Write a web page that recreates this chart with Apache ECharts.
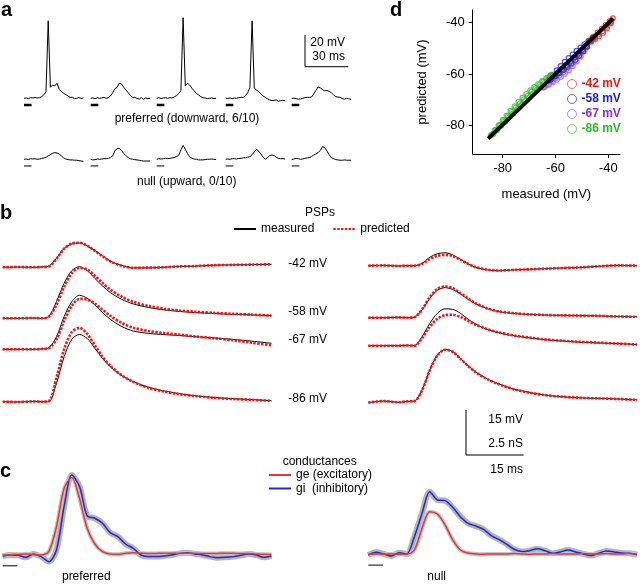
<!DOCTYPE html>
<html>
<head>
<meta charset="utf-8">
<script src="https://cdn.jsdelivr.net/npm/echarts@6/dist/echarts.min.js"></script>
<style>
  html, body { margin: 0; padding: 0; background: #fff; }
  #main { width: 640px; height: 585px; }
</style>
</head>
<body>
<div id="main"></div>
<script>
// ---- panel a: single trials (ms, mV above rest) ----
var aTime = [0,1.5,3,4.5,6,7.5,9,10.5,12,13.5,15,16.5,18,19.5,21,22.5,24,25.5,27,28.5,30,31.5,33,34.5,36,37.5,39,40.5];
var preferredTrials = [
  [0,0.2,-0.2,0.4,0.2,0.6,0.2,0.4,1.1,2.2,4.3,50,7.1,8.6,8,9.7,5.8,4.3,3.2,2.4,1.5,0.6,0.6,-0.2,0,0.6,-0.2,0.2],
  [0,0.2,-0.2,0.4,0,0.2,0.6,0,0.4,1.5,3.7,6.2,7.1,9.7,9.2,7.1,5.4,3.7,1.9,0.6,0.6,0,-0.6,0.4,-0.6,0.2,-0.2,0],
  [0,0.4,-0.2,0.2,0.4,0,0.4,0.2,0.9,1.7,3.2,4.9,52,8,9.7,8.6,6.5,4.9,3.2,2.2,1.1,0.4,0.2,-0.2,0,0.2,-0.2,0],
  [0,0,0.2,-0.2,0.2,0,0.4,0.6,0.6,1.7,3.7,7,50,6.5,5.4,4.3,2.8,1.5,0.6,-0.4,-1.1,-1.5,-1.3,-1.1,-1.9,-1.5,-1.3,-1.5],
  [0,0,-0.2,-0.6,-0.4,0,0.4,0.6,0.6,0.8,2.8,5,7.3,6.7,5.6,4.9,5,4.5,3.6,2.2,1.1,0.8,0.6,-0.2,-0.6,0,-0.4,-0.6]
];
var nullTrials = [
  [0,0.2,-0.2,0.4,0.2,0.4,0,0.2,0.6,0.9,1.3,2.2,3,3.9,4.3,4.1,3.4,2.2,0.9,0.2,-0.2,-0.4,-0.4,-0.6,-0.6,-0.9,-1.1,-1.3],
  [0,-0.4,-0.2,0.2,0,0.2,0.4,0.4,0.6,1.3,2.2,5.4,6.9,6.9,5.8,3.7,2.4,1.1,0.4,0,-0.2,-0.4,-0.6,-0.9,-1.1,-1.1,-1.1,-1.1],
  [0,0.4,0.2,0.4,0.6,0.4,0.6,0.9,1.1,1.7,2.6,6,9,6.5,3.7,1.7,0.6,0.2,0,-0.4,-0.4,-0.4,-0.2,0,0,0.2,0,-0.2],
  [0,0.2,0,0.4,0.4,0.2,0.6,0.6,0.9,1.1,1.3,1.7,3,4.7,6.5,5.2,3.4,1.3,0,1.1,2.4,2.8,2.4,1.3,0.6,0.4,0.4,0.2],
  [-0.2,0.2,0.6,0.4,0,0.2,0.6,0.9,1.1,1.7,2.8,3.4,4.3,5.8,8.2,7.5,5.4,3,1.1,0.4,-0.2,-0.4,-0.6,-0.6,-0.4,-0.6,-0.6,-0.6]
];
var stimA = [0, 5.2];

// ---- panel b: PSPs (ms, mV above baseline) ----
var bTime = [0,4,8,10,12,14,16,18,20,22,24,26,28,31,34,38,42,46,50,55,60,65,70];
var holdLabels = ['-42 mV', '-58 mV', '-67 mV', '-86 mV'];
var prefMeasured = [
  [0,0.1,0,0.1,0.4,3,6.3,7.8,8.1,7.1,5.6,3.8,2.1,0.6,-0.2,-0.2,0,0.3,0.4,0.7,0.8,0.9,1],
  [0,0,0.1,0,0.6,5.6,11.7,15.9,17.2,15.9,13.3,10.8,8.6,6.3,4.8,3.6,2.8,2.3,1.9,1.6,1.3,1.1,0.9],
  [0,0,0,0.1,0.5,4.2,10.9,15.9,18,17,14.8,12.2,10,7.6,6.1,5.3,4.9,4.6,4.2,3.8,3.3,2.7,2],
  [0,-0.1,0.1,0,0,6.1,15,20.8,22.4,21.1,17.8,14.4,11.7,8.7,6.7,4.8,3.6,2.7,2,1.4,1,0.7,0.3]
];
var prefPredicted = [
  [0,0.1,0,0.1,0.3,2.8,6.2,7.9,8.2,7.2,5.5,3.7,2,0.5,-0.2,-0.1,0,0.3,0.4,0.7,0.8,0.9,1],
  [0,0,0.1,0,0.5,4.5,10.5,15,16.8,16.3,14.2,11.8,9.6,7.2,5.5,4.1,3.2,2.6,2.2,1.8,1.5,1.2,0.9],
  [0,0,0,0.1,0.4,3.3,9.5,14.5,16.8,16.6,15.2,13.2,11.2,8.8,7.2,6.1,5.4,4.9,4.3,3.7,3,2.2,1.3],
  [0,-0.1,0.1,0,0.2,8,17.5,23.2,24.6,22.6,18.8,15,12,8.8,6.6,4.6,3.4,2.5,1.9,1.3,0.9,0.6,0.3]
];
var nullMeasured = [
  [0,0.1,-0.1,0,0,0.8,2.8,4,4.3,3.6,2.1,0.6,-0.6,-1.4,-1.7,-1.4,-1.2,-1,-0.8,-0.6,-0.2,0.1,0],
  [0,0,0.1,0,0.2,2.6,6.4,9.2,10,9.4,7.9,6.1,4.6,3,2,1.4,1.1,0.9,0.8,0.7,0.6,0.4,0.3],
  [0,0,0,0.1,0,3,7.4,10.8,12.3,12.1,10.8,8.8,7.2,5.4,4.3,3.3,2.6,2,1.6,1.2,0.9,0.7,0.4],
  [-0.3,0.2,-0.2,0.1,0.2,3.9,10.6,15.6,17.4,16.7,14.4,12,9.9,7.6,5.9,4.2,3.1,2.2,1.7,1.3,1.1,0.9,0.6]
];
var nullPredicted = [
  [0,0.1,-0.1,0,0,0.6,2.2,3.3,3.6,3.2,2,0.6,-0.5,-1.3,-1.6,-1.4,-1.2,-1,-0.8,-0.6,-0.2,0.1,0],
  [0,0,0.1,0,0.2,2.8,6.8,9.6,10.4,9.8,8.2,6.4,4.8,3.1,2.1,1.5,1.1,0.9,0.8,0.7,0.6,0.4,0.3],
  [0,0,0,0.1,0,2.5,6.3,9,10.2,10.3,9.6,8.3,7,5.5,4.4,3.4,2.7,2.1,1.7,1.3,1,0.7,0.4],
  [-0.3,0.2,-0.2,0.1,0.2,3.8,10.4,15.4,17.3,16.6,14.3,11.9,9.8,7.5,5.8,4.1,3,2.2,1.7,1.3,1.1,0.9,0.6]
];

// ---- panel c: conductances (ms, nS) ----
var cTime = [0,2,4,6,8,10,12,14,16,18,20,22,24,26,28,30,32,34,36,38,40,42,44,46,48,50,52,54,56,58,60,62,64,66,68,70];
var gePref = [0,0.02,0.03,0.06,0.02,0,0.19,1.57,3.7,4.31,3.15,1.48,0.61,0.19,0.06,0.04,0.1,0.12,0.1,0.08,0.09,0.1,0.1,0.09,0.1,0.1,0.08,0.08,0.09,0.1,0.1,0.08,0.09,0.06,0.04,0.03];
var giPref = [-0.06,0,-0.02,-0.13,0.06,-0.09,-0.37,0.28,2.7,4.44,3.8,2.17,2.04,1.76,1.24,1.02,0.61,0.37,0,-0.09,-0.09,-0.06,0,0.09,0.13,0.06,0,-0.09,-0.15,-0.13,-0.09,-0.02,0.06,0,-0.13,-0.06];
var geNull = [0,0.02,0,0.02,0,0,0.24,1.44,2.37,2.24,1.63,0.8,0.24,0.07,0.02,0,0.02,0.02,0.02,0.04,0.02,0,0.02,0.02,0.04,0.02,0.02,0.02,0.04,0.02,0.02,0.04,0.02,0.02,0.04,0.02];
var giNull = [-0.04,0.11,0.02,-0.09,0.09,0.02,0.98,2.28,3.48,3.02,2.98,2.6,2.09,1.72,1.57,1.39,1.04,0.83,0.57,0.28,0.15,0.2,0.31,0.2,0.06,0.13,0.24,0.13,0.02,-0.07,0.06,0.19,0.13,0.07,0.06,-0.02];
var stimC = [0, 3.8];

// ---- panel d: predicted vs measured (mV) ----
var dTicks = [-80, -60, -40];
var dRed = [[-47,-46.9],[-45.5,-45.4],[-44,-43.9],[-42.5,-42.4],[-41,-40.9],[-39.5,-39.4],[-38.3,-38.3],
  [-46.8,-47.1],[-45.2,-45.9],[-43.8,-44.6],[-42.2,-43.2],[-40.8,-41.5],[-39.2,-39.8],
  [-46.5,-47.3],[-45,-46.4],[-43.5,-45.2],[-42,-43.9],[-40.5,-42.1],[-39,-40.2]];
var dBlue = [[-62.5,-62.2],[-61,-60.4],[-59.5,-58.6],[-58,-56.9],[-56.5,-55.3],[-55,-53.8],[-53.5,-52.4],[-52,-51],[-50.5,-49.7],[-49,-48.4],[-47.5,-47.2],[-46,-45.9],
  [-62,-62.2],[-60.5,-60.8],[-59,-59.4],[-57.5,-58],[-56,-56.6],[-54.5,-55.1],[-53,-53.6],[-51.5,-52.1],[-50,-50.6],[-48.5,-49],[-47,-47.3],[-45.7,-45.9],
  [-61.5,-61.9],[-60,-60.8],[-58.5,-59.6],[-57,-58.4],[-55.5,-57.2],[-54,-55.8],[-52.5,-54.4],[-51,-52.8],[-49.5,-51.1],[-48,-49.3],[-46.5,-47.1]];
var dPurple = [[-65,-65.2],[-63.5,-64],[-62,-62.7],[-60.5,-61.4],[-59,-60],[-57.5,-58.6],[-56,-57.1],[-54.5,-55.5],[-53,-54],[-51.5,-52.4],[-50,-50.8],[-48.5,-49.5],
  [-64.5,-65.2],[-63,-64.2],[-61.5,-62.9],[-60,-61.7],[-58.5,-60.5],[-57,-59.2],[-55.5,-57.8],[-54,-56.3],[-52.5,-54.7],[-51,-53],[-49.5,-51.2],[-48,-49.3],
  [-64,-65],[-62.5,-64.1],[-61,-63.2],[-59.5,-62.2],[-58,-61.1],[-56.5,-59.9],[-55,-58.5],[-53.5,-56.9],[-52,-55.1],[-50.5,-53.1],[-49,-50.8]];
var dGreen = [[-84.5,-84],[-83,-82],[-81.5,-80],[-80,-78],[-78.5,-76.2],[-77,-74.4],[-75.5,-72.6],[-74,-70.9],[-72.5,-69.3],[-71,-67.8],[-69.5,-66.4],[-68,-65.1],[-66.5,-63.9],[-65,-62.8],[-63.5,-61.7],[-62,-60.7],[-61.3,-60.2],
  [-84,-83.5],[-82.5,-81.7],[-81,-79.9],[-79.5,-78.2],[-78,-76.5],[-76.5,-74.8],[-75,-73.1],[-73.5,-71.5],[-72,-69.9],[-70.5,-68.4],[-69,-66.9],[-67.5,-65.5],[-66,-64.2],[-64.5,-62.9],[-63,-61.6],[-61.8,-60.5],
  [-83.5,-83.3],[-82,-81.7],[-80.5,-80.1],[-79,-78.5],[-77.5,-76.9],[-76,-75.3],[-74.5,-73.7],[-73,-72.1],[-71.5,-70.5],[-70,-69],[-68.5,-67.5],[-67,-66.1],[-65.5,-64.7],[-64,-63.3],[-62.5,-61.8]];
var dIdentity = [[-85.5,-85.2],[-38.1,-38.3]];

var FONT = '"Liberation Sans", Arial, sans-serif';
var grid = [], xAxis = [], yAxis = [], series = [];

function panel(left, top, width, height, xMin, xMax, yMin, yMax) {
  var i = grid.length;
  grid.push({ left: left, top: top, width: width, height: height });
  xAxis.push({ type: 'value', gridIndex: i, min: xMin, max: xMax, show: false });
  yAxis.push({ type: 'value', gridIndex: i, min: yMin, max: yMax, show: false });
  return i;
}

function trace(g, t, v, name, style, smooth, z) {
  series.push({
    type: 'line', name: name, xAxisIndex: g, yAxisIndex: g,
    data: t.map(function (x, k) { return [x, v[k]]; }),
    symbol: 'none', smooth: smooth, clip: false, silent: true,
    itemStyle: { color: style.color },
    lineStyle: style, z: z || 2
  });
}

// panel a
var aLeft = [24, 90.7, 156.7, 225.7, 291.7];
var aMs = 1.467, aMv = 1.55;
preferredTrials.forEach(function (v, k) {
  var g = panel(aLeft[k], 98.3 - 55 * aMv, 40.5 * aMs, 60 * aMv, 0, 40.5, -5, 55);
  trace(g, aTime, v, null, { color: '#000', width: 1 }, false);
  trace(g, stimA, [-4.4, -4.4], null, { color: '#000', width: 2.5 }, false);
});
nullTrials.forEach(function (v, k) {
  var g = panel(aLeft[k], 159.3 - 15 * aMv, 40.5 * aMs, 20 * aMv, 0, 40.5, -5, 15);
  trace(g, aTime, v, null, { color: '#000', width: 1 }, false);
  trace(g, stimA, [-4.3, -4.3], null, { color: '#000', width: 1 }, false);
});

// panel b
var bMs = 3.84, bMv = 3;
var prefBase = [267.3, 318.3, 349.3, 401.7];
var nullBase = [265.7, 317.7, 345.7, 401.7];
var dotted = { color: '#f01414', width: 2.6, type: [2.4, 1.4] };
for (var k = 0; k < 4; k++) {
  var gl = panel(2.7, prefBase[k] - 27 * bMv, 70 * bMs, 32 * bMv, 0, 70, -5, 27);
  trace(gl, bTime, prefMeasured[k], 'measured', { color: '#000', width: 1 }, 0.3, 2);
  trace(gl, bTime, prefPredicted[k], 'predicted', dotted, 0.3, 3);
  var gr = panel(368.3, nullBase[k] - 27 * bMv, 70 * bMs, 32 * bMv, 0, 70, -5, 27);
  trace(gr, bTime, nullMeasured[k], 'measured', { color: '#000', width: 1 }, 0.3, 2);
  trace(gr, bTime, nullPredicted[k], 'predicted', dotted, 0.3, 3);
}

// panel c
var nS = 18;
[[2.7, 555, gePref, giPref], [368.3, 554.3, geNull, giNull]].forEach(function (p) {
  var g = panel(p[0], p[1] - 5 * nS, 70 * bMs, 6 * nS, 0, 70, -1, 5);
  trace(g, cTime, p[3], null, { color: '#b4b4b4', width: 6 }, 0.3, 1);
  trace(g, cTime, p[2], null, { color: '#c4c4c4', width: 4 }, 0.3, 1);
  trace(g, cTime, p[3], 'gi  (inhibitory)', { color: '#2424d8', width: 1.5 }, 0.3, 3);
  trace(g, cTime, p[2], 'ge (excitatory)', { color: '#ea3535', width: 1.5 }, 0.3, 4);
  trace(g, stimC, [-0.6, -0.6], null, { color: '#000', width: 1 }, false);
});

// panel d
var dg = grid.length;
grid.push({ left: 472.7, top: 10, width: 147.3, height: 144 });
var dAxisCommon = {
  type: 'value', gridIndex: dg,
  nameLocation: 'middle',
  nameTextStyle: { fontSize: 13, color: '#000', fontFamily: FONT },
  axisLine: { onZero: false, lineStyle: { color: '#000', width: 1 } },
  axisTick: { length: 4, customValues: dTicks, lineStyle: { color: '#000' } },
  axisLabel: { customValues: dTicks, fontSize: 13, color: '#000', fontFamily: FONT, margin: 8 },
  splitLine: { show: false }
};
xAxis.push(Object.assign({}, dAxisCommon, {
  min: -91.36, max: -35.57, name: 'measured (mV)', nameGap: 34
}));
yAxis.push(Object.assign({}, dAxisCommon, {
  min: -91.19, max: -35.05, name: 'predicted (mV)', nameGap: 44
}));
[['-67 mV', dPurple, '#a45cf0'], ['-58 mV', dBlue, '#2525e0'], ['-86 mV', dGreen, '#2ec42e'], ['-42 mV', dRed, '#f02828']]
  .forEach(function (s) {
    series.push({
      type: 'scatter', name: s[0], xAxisIndex: dg, yAxisIndex: dg, data: s[1],
      symbol: 'circle', symbolSize: 5, silent: true,
      itemStyle: { color: 'rgba(0,0,0,0)', borderColor: s[2], borderWidth: 1.2 }
    });
  });
series.push({
  type: 'line', xAxisIndex: dg, yAxisIndex: dg, data: dIdentity, symbol: 'none',
  silent: true, lineStyle: { color: '#000', width: 4 }, z: 5
});

function txt(s, x, y, align, font, color) {
  return { type: 'text', silent: true, style: {
    text: s, x: x, y: y, textAlign: align || 'left', textVerticalAlign: 'middle',
    font: font || ('12px ' + FONT), fill: color || '#000' } };
}
function seg(x1, y1, x2, y2) {
  return { type: 'line', silent: true, shape: { x1: x1, y1: y1, x2: x2, y2: y2 },
    style: { stroke: '#000', lineWidth: 1 } };
}
var bold = 'bold 20px ' + FONT;
var graphics = [
  txt('a', 1, 10, 'left', bold), txt('b', 0, 213, 'left', bold),
  txt('c', 0, 471, 'left', bold), txt('d', 390, 10, 'left', bold),
  txt('preferred (downward, 6/10)', 187, 118.3, 'center'),
  txt('null (upward, 0/10)', 186.7, 181.7, 'center'),
  txt('20 mV', 345, 42.3, 'right'), txt('30 ms', 345, 56.7, 'right'),
  seg(305, 35, 305, 66.7), seg(305, 66.7, 348.3, 66.7),
  txt('PSPs', 320, 213, 'center'),
  txt('15 mV', 523, 420, 'right'), txt('2.5 nS', 523, 444, 'right'), txt('15 ms', 523, 470, 'right'),
  seg(466, 410, 466, 455), seg(466, 455, 523.6, 455),
  txt('conductances', 319.7, 461.7, 'center'),
  txt('preferred', 86.3, 576.7, 'center'), txt('null', 436.7, 576.7, 'center')
];
var labelY = [263.3, 311.7, 339.3, 398.3];
holdLabels.forEach(function (l, k) { graphics.push(txt(l, 288.3, labelY[k], 'left')); });

var chart = echarts.init(document.getElementById('main'), null, { renderer: 'canvas' });
chart.setOption({
  animation: false,
  backgroundColor: '#fff',
  textStyle: { fontFamily: FONT },
  grid: grid, xAxis: xAxis, yAxis: yAxis,
  legend: [
    { data: ['measured', 'predicted'], left: 233, top: 223, orient: 'horizontal', padding: 0,
      itemWidth: 22, itemHeight: 10, itemGap: 18, selectedMode: false,
      itemStyle: { opacity: 0 },
      textStyle: { fontSize: 12, color: '#000', fontFamily: FONT } },
    { data: ['ge (excitatory)', 'gi  (inhibitory)'], left: 268, top: 469, orient: 'vertical', padding: 0,
      itemWidth: 22, itemHeight: 8, itemGap: 1.5, selectedMode: false,
      itemStyle: { opacity: 0 },
      textStyle: { fontSize: 12, color: '#000', fontFamily: FONT } },
    { data: [
        { name: '-42 mV', textStyle: { color: '#e81818' } },
        { name: '-58 mV', textStyle: { color: '#1c1cc8' } },
        { name: '-67 mV', textStyle: { color: '#8a2ee0' } },
        { name: '-86 mV', textStyle: { color: '#2db82d' } }
      ], left: 567, top: 78, orient: 'vertical', padding: 0,
      itemWidth: 9, itemHeight: 9, itemGap: 3, selectedMode: false,
      itemStyle: { borderWidth: 1, opacity: 0.7 },
      textStyle: { fontSize: 12, fontWeight: 'bold', fontFamily: FONT } }
  ],
  graphic: graphics,
  series: series
});
</script>
</body>
</html>
